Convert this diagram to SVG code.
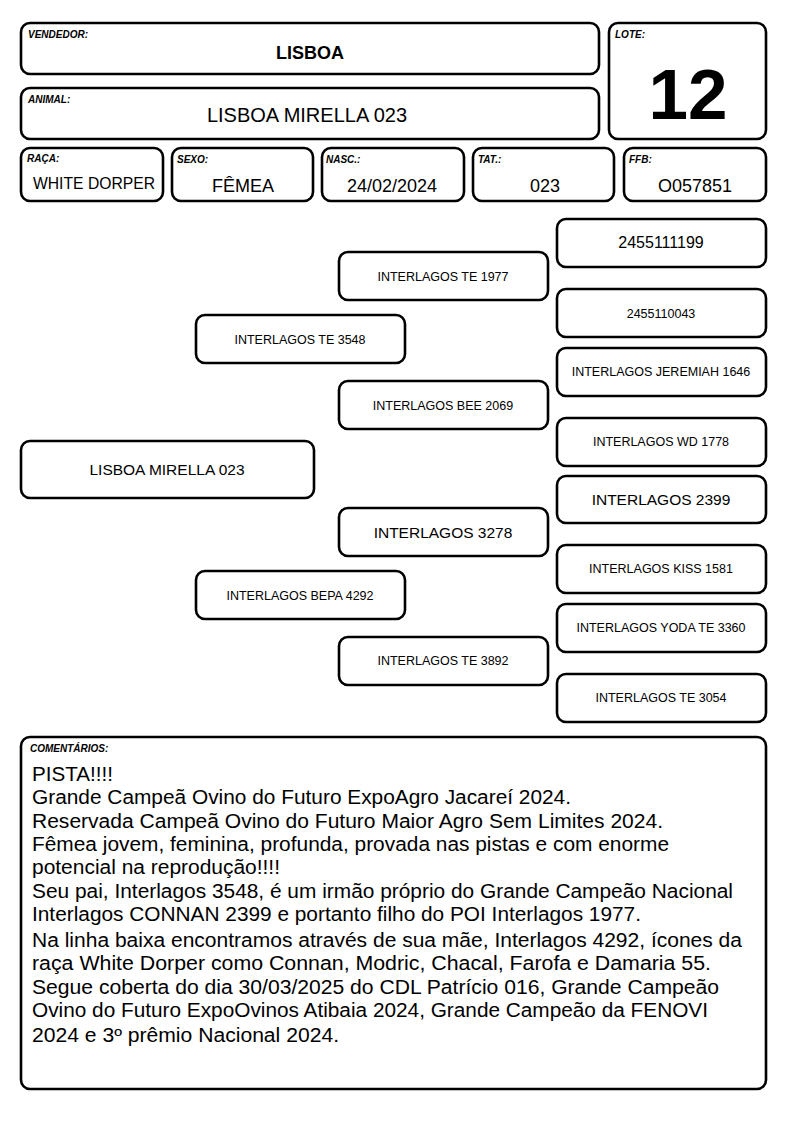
<svg xmlns="http://www.w3.org/2000/svg" width="794" height="1123" viewBox="0 0 794 1123">
<style>
.b{fill:#fff;stroke:#000;stroke-width:2.6}
.lb{font-family:"Liberation Sans",Arial,sans-serif;font-weight:bold;font-style:italic;font-size:10px;fill:#000}
.t{font-family:"Liberation Sans",Arial,sans-serif;fill:#000;text-anchor:middle}
.c{font-family:"Liberation Sans",Arial,sans-serif;fill:#000;font-size:19.5px}
</style>
<rect width="794" height="1123" fill="#fff"/>
<g id="vendedor"><rect class="b" x="21" y="23" width="578" height="51" rx="9"/><text class="lb" x="28" y="38">VENDEDOR:</text><text class="t" x="310" y="59" font-size="18" font-weight="bold">LISBOA</text></g>
<g id="animal"><rect class="b" x="21" y="88" width="578" height="51" rx="9"/><text class="lb" x="28" y="103">ANIMAL:</text><text class="t" x="307" y="122" font-size="20">LISBOA MIRELLA 023</text></g>
<g id="lote"><rect class="b" x="609" y="23" width="157" height="116" rx="9"/><text class="lb" x="615" y="38">LOTE:</text><text class="t" x="688" y="119" font-size="71" font-weight="bold">12</text></g>
<g id="raca"><rect class="b" x="21" y="148" width="142" height="53" rx="9"/><text class="lb" x="27" y="162">RAÇA:</text><text class="t" x="94" y="189" font-size="15.7">WHITE DORPER</text></g>
<g id="sexo"><rect class="b" x="172" y="148" width="141" height="53" rx="9"/><text class="lb" x="177" y="163">SEXO:</text><text class="t" x="243" y="192" font-size="18">FÊMEA</text></g>
<g id="nasc"><rect class="b" x="322" y="148" width="142" height="53" rx="9"/><text class="lb" x="326" y="163">NASC.:</text><text class="t" x="392" y="192" font-size="18">24/02/2024</text></g>
<g id="tat"><rect class="b" x="473" y="148" width="141" height="53" rx="9"/><text class="lb" x="478" y="163">TAT.:</text><text class="t" x="545" y="192" font-size="18">023</text></g>
<g id="ffb"><rect class="b" x="624" y="148" width="142" height="53" rx="9"/><text class="lb" x="629" y="163">FFB:</text><text class="t" x="695" y="192" font-size="18">O057851</text></g>

<g id="p3a"><rect class="b" x="557" y="219" width="209" height="48" rx="9"/><text class="t" x="661" y="248" font-size="16">2455111199</text></g>
<g id="p3b"><rect class="b" x="557" y="289" width="209" height="48" rx="9"/><text class="t" x="661" y="318" font-size="12.5">2455110043</text></g>
<g id="p3c"><rect class="b" x="557" y="348" width="209" height="48" rx="9"/><text class="t" x="661" y="376" font-size="12.5">INTERLAGOS JEREMIAH 1646</text></g>
<g id="p3d"><rect class="b" x="557" y="418" width="209" height="48" rx="9"/><text class="t" x="661" y="446" font-size="12.5">INTERLAGOS WD 1778</text></g>
<g id="p3e"><rect class="b" x="557" y="476" width="209" height="47" rx="9"/><text class="t" x="661" y="505" font-size="15.5">INTERLAGOS 2399</text></g>
<g id="p3f"><rect class="b" x="557" y="545" width="209" height="48" rx="9"/><text class="t" x="661" y="573" font-size="12.5">INTERLAGOS KISS 1581</text></g>
<g id="p3g"><rect class="b" x="557" y="604" width="209" height="48" rx="9"/><text class="t" x="661" y="632" font-size="12.5">INTERLAGOS YODA TE 3360</text></g>
<g id="p3h"><rect class="b" x="557" y="674" width="209" height="48" rx="9"/><text class="t" x="661" y="702" font-size="12.5">INTERLAGOS TE 3054</text></g>

<g id="p2a"><rect class="b" x="339" y="252" width="209" height="48" rx="9"/><text class="t" x="443" y="281" font-size="12.5">INTERLAGOS TE 1977</text></g>
<g id="p2b"><rect class="b" x="339" y="381" width="209" height="48" rx="9"/><text class="t" x="443" y="410" font-size="12.5">INTERLAGOS BEE 2069</text></g>
<g id="p2c"><rect class="b" x="339" y="508" width="209" height="48" rx="9"/><text class="t" x="443" y="538" font-size="15.5">INTERLAGOS 3278</text></g>
<g id="p2d"><rect class="b" x="339" y="637" width="209" height="48" rx="9"/><text class="t" x="443" y="665" font-size="12.5">INTERLAGOS TE 3892</text></g>

<g id="p1a"><rect class="b" x="196" y="315" width="209" height="48" rx="9"/><text class="t" x="300" y="344" font-size="12.5">INTERLAGOS TE 3548</text></g>
<g id="p1b"><rect class="b" x="196" y="571" width="209" height="48" rx="9"/><text class="t" x="300" y="600" font-size="12.5">INTERLAGOS BEPA 4292</text></g>

<g id="p0"><rect class="b" x="21" y="441" width="293" height="57" rx="9"/><text class="t" x="167" y="475" font-size="15.5">LISBOA MIRELLA 023</text></g>

<g id="connectors"></g>

<g id="comentarios"><rect class="b" x="21" y="737" width="745" height="352" rx="9"/><text class="lb" x="30" y="752">COMENTÁRIOS:</text>
<text class="c" x="32" y="781" textLength="81" lengthAdjust="spacingAndGlyphs">PISTA!!!!</text>
<text class="c" x="32" y="804" textLength="539" lengthAdjust="spacingAndGlyphs">Grande Campeã Ovino do Futuro ExpoAgro Jacareí 2024.</text>
<text class="c" x="32" y="828" textLength="631" lengthAdjust="spacingAndGlyphs">Reservada Campeã Ovino do Futuro Maior Agro Sem Limites 2024.</text>
<text class="c" x="32" y="851" textLength="637" lengthAdjust="spacingAndGlyphs">Fêmea jovem, feminina, profunda, provada nas pistas e com enorme</text>
<text class="c" x="32" y="874" textLength="248" lengthAdjust="spacingAndGlyphs">potencial na reprodução!!!!</text>
<text class="c" x="32" y="898" textLength="701" lengthAdjust="spacingAndGlyphs">Seu pai, Interlagos 3548, é um irmão próprio do Grande Campeão Nacional</text>
<text class="c" x="32" y="921" textLength="609" lengthAdjust="spacingAndGlyphs">Interlagos CONNAN 2399 e portanto filho do POI Interlagos 1977.</text>
<text class="c" x="32" y="947" textLength="710" lengthAdjust="spacingAndGlyphs">Na linha baixa encontramos através de sua mãe, Interlagos 4292, ícones da</text>
<text class="c" x="32" y="970" textLength="679" lengthAdjust="spacingAndGlyphs">raça White Dorper como Connan, Modric, Chacal, Farofa e Damaria 55.</text>
<text class="c" x="32" y="994" textLength="687" lengthAdjust="spacingAndGlyphs">Segue coberta do dia 30/03/2025 do CDL Patrício 016, Grande Campeão</text>
<text class="c" x="32" y="1017" textLength="676" lengthAdjust="spacingAndGlyphs">Ovino do Futuro ExpoOvinos Atibaia 2024, Grande Campeão da FENOVI</text>
<text class="c" x="32" y="1042" textLength="307" lengthAdjust="spacingAndGlyphs">2024 e 3º prêmio Nacional 2024.</text>
</g>
</svg>
